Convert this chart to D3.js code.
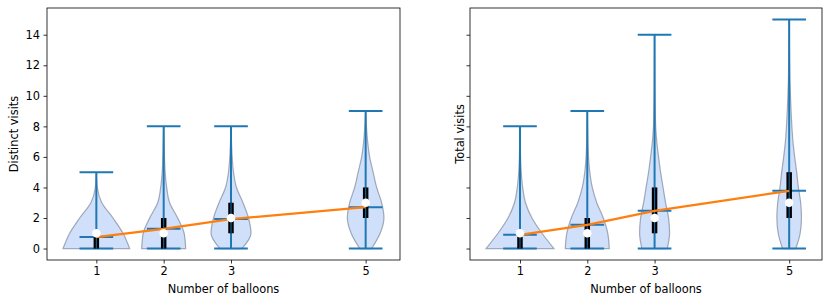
<!DOCTYPE html>
<html><head><meta charset="utf-8">
<script src="https://cdn.jsdelivr.net/npm/d3@7"></script>
<style>body{margin:0;background:#fff}svg{display:block}text{font-family:"DejaVu Sans",sans-serif}</style>
</head><body><svg id="c" width="831" height="304"></svg>
<script>
const positions = [1, 2, 3, 5];
const xLabel = "Number of balloons";
const yTicks = [0, 2, 4, 6, 8, 10, 12, 14];
const densityLevels = [0,1,2,3,4,5,6,7,8,9,10,11,12,13,14,15];

// Distinct visits
const distinctMin = [0, 0, 0, 0];
const distinctMax = [5, 8, 8, 9];
const distinctQ1 = [0, 0, 1, 2];
const distinctMedian = [1, 1, 2, 3];
const distinctQ3 = [1, 2, 3, 4];
const distinctMean = [0.75, 1.29, 1.93, 2.71];
const distinctDensity = [
  [33.3, 26.7, 16.7, 5.5, 1.0, 0],
  [22, 20.5, 14, 6, 3, 1.5, 0.8, 0.4, 0],
  [11, 20, 17.5, 12, 5.5, 2.5, 1.2, 0.5, 0],
  [6, 14.5, 18.3, 16, 11, 7.5, 4, 2, 0.8, 0]
];

// Total visits
const totalMin = [0, 0, 0, 0];
const totalMax = [8, 9, 14, 15];
const totalQ1 = [0, 0, 1, 2];
const totalMedian = [1, 1, 2, 3];
const totalQ3 = [1, 2, 4, 5];
const totalMean = [0.9, 1.55, 2.47, 3.78];
const totalDensity = [
  [34, 22, 12, 5.5, 2.7, 1.3, 0.6, 0.3, 0],
  [22, 20.5, 16, 9.5, 5, 2.5, 1.2, 0.6, 0.3, 0],
  [12.7, 15, 14, 11, 8.5, 6, 4, 2.2, 1.1, 0.7, 0.4, 0.25, 0.15, 0.07, 0],
  [6.7, 11, 12.3, 11.5, 9.2, 7.5, 5.5, 3.8, 2.7, 1.9, 1.3, 0.8, 0.5, 0.3, 0.15, 0]
];

const panels = [
  {label: "Distinct visits", min: distinctMin, max: distinctMax, q1: distinctQ1, med: distinctMedian, q3: distinctQ3, mean: distinctMean, dens: distinctDensity, x0: 47, x1: 400, showY: true},
  {label: "Total visits", min: totalMin, max: totalMax, q1: totalQ1, med: totalMedian, q3: totalQ3, mean: totalMean, dens: totalDensity, x0: 470, x1: 822, showY: false}
];

const svg = d3.select("#c");
const plotTop = 8, plotBottom = 260;
const blue = "#1f77b4", orange = "#ff7f0e";
const capHalf = 0.25;
const fs = 11.4;
const wScale = d3.scaleLinear().domain([0, 34]).range([0, 0.505]);
const y = d3.scaleLinear().domain([-0.75, 15.75]).range([plotBottom, plotTop]);

panels.forEach(p => {
  let lo = d3.min(positions.map((pos, i) => pos - Math.max(capHalf, wScale(d3.max(p.dens[i])))));
  let hi = d3.max(positions.map((pos, i) => pos + Math.max(capHalf, wScale(d3.max(p.dens[i])))));
  const pad = (hi - lo) * 0.05;
  const x = d3.scaleLinear().domain([lo - pad, hi + pad]).range([p.x0, p.x1]);
  const g = svg.append("g");

  positions.forEach((pos, i) => {
    const pts = p.dens[i].map((d, k) => ({v: densityLevels[k], w: wScale(d)}));
    const area = d3.area().y(d => y(d.v)).x0(d => x(pos - d.w)).x1(d => x(pos + d.w)).curve(d3.curveMonotoneY);
    g.append("path").attr("d", area(pts))
      .attr("fill", "rgba(100,149,237,0.3)").attr("stroke", "rgba(110,120,140,0.6)").attr("stroke-width", 1.2);
  });
  positions.forEach((pos, i) => {
    g.append("line").attr("x1", x(pos)).attr("x2", x(pos)).attr("y1", y(p.min[i])).attr("y2", y(p.max[i]))
      .attr("stroke", blue).attr("stroke-width", 2);
    [p.min[i], p.max[i], p.mean[i]].forEach(v => {
      g.append("line").attr("x1", x(pos - capHalf)).attr("x2", x(pos + capHalf)).attr("y1", y(v)).attr("y2", y(v))
        .attr("stroke", blue).attr("stroke-width", 2);
    });
  });
  positions.forEach((pos, i) => {
    g.append("line").attr("x1", x(pos)).attr("x2", x(pos)).attr("y1", y(p.q1[i])).attr("y2", y(p.q3[i]))
      .attr("stroke", "#000").attr("stroke-width", 5.5);
    g.append("line").attr("x1", x(pos)).attr("x2", x(pos)).attr("y1", y(p.q1[i])).attr("y2", y(p.q3[i]))
      .attr("stroke", blue).attr("stroke-width", 1.2).attr("opacity", 0.8);
  });
  const line = d3.line().x(d => x(d[0])).y(d => y(d[1]));
  g.append("path").attr("d", line(positions.map((pos, i) => [pos, p.mean[i]])))
    .attr("fill", "none").attr("stroke", orange).attr("stroke-width", 2.2);
  positions.forEach((pos, i) => {
    g.append("circle").attr("cx", x(pos)).attr("cy", y(p.med[i])).attr("r", 4.3).attr("fill", "#fff");
  });

  const xa = svg.append("g").attr("transform", `translate(0,${plotBottom})`)
    .call(d3.axisBottom(x).tickValues(positions).tickFormat(d3.format("d")).tickSizeOuter(0).tickSize(3.5).tickPadding(3.5));
  const ya = svg.append("g").attr("transform", `translate(${p.x0},0)`)
    .call(d3.axisLeft(y).tickValues(yTicks).tickFormat(p.showY ? d3.format("d") : "").tickSizeOuter(0).tickSize(3.5).tickPadding(3.5));
  [xa, ya].forEach(a => {
    a.select(".domain").remove();
    a.selectAll("text").attr("font-size", fs).attr("fill", "#000").style("font-family", "DejaVu Sans");
    a.selectAll("line").attr("stroke", "#000").attr("stroke-width", 0.8);
  });
  svg.append("rect").attr("x", p.x0).attr("y", plotTop).attr("width", p.x1 - p.x0).attr("height", plotBottom - plotTop)
    .attr("fill", "none").attr("stroke", "#000").attr("stroke-width", 0.8);
  svg.append("text").attr("x", (p.x0 + p.x1) / 2).attr("y", 293).attr("text-anchor", "middle")
    .attr("font-size", fs).text(xLabel);
  const lx = p.showY ? 17.5 : p.x0 - 6.5;
  svg.append("text").attr("transform", `translate(${lx},${(plotTop + plotBottom) / 2}) rotate(-90)`)
    .attr("text-anchor", "middle").attr("font-size", fs).text(p.label);
});
</script></body></html>
